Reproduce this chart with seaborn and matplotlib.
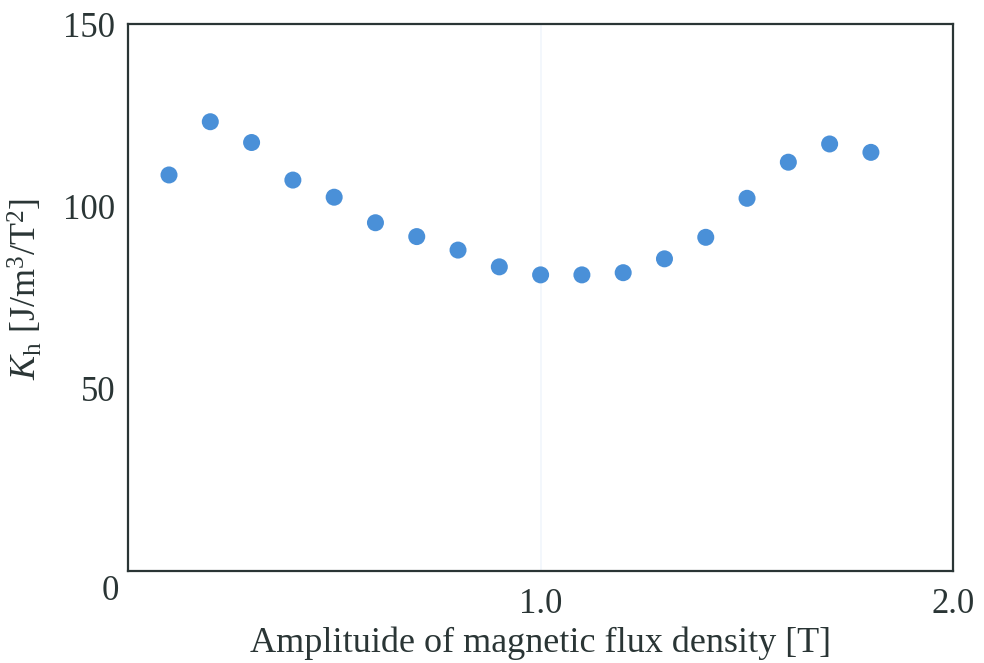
import matplotlib
matplotlib.use("Agg")
import matplotlib.pyplot as plt
import seaborn as sns
import pandas as pd

# Hysteresis loss coefficient vs. flux density amplitude
flux_density = [0.1, 0.2, 0.3, 0.4, 0.5, 0.6, 0.7, 0.8, 0.9,
                1.0, 1.1, 1.2, 1.3, 1.4, 1.5, 1.6, 1.7, 1.8]
kh_values = [108.6, 123.2, 117.5, 107.2, 102.5, 95.5, 91.7, 88.0, 83.4,
             81.2, 81.2, 81.8, 85.6, 91.5, 102.2, 112.1, 117.1, 114.8]

x_ticks = [1.0, 2.0]
x_tick_labels = ["1.0", "2.0"]
y_ticks = [50, 100, 150]
y_tick_labels = ["50", "100", "150"]

df = pd.DataFrame({"B": flux_density, "Kh": kh_values})

sns.set_theme(style="white")
plt.rcParams["font.family"] = ["Liberation Serif", "DejaVu Serif"]
plt.rcParams["mathtext.fontset"] = "custom"
plt.rcParams["mathtext.rm"] = "Liberation Serif"
plt.rcParams["mathtext.it"] = "Liberation Serif:italic"

ink = "#2a3535"

fig = plt.figure(figsize=(9.84, 6.63), dpi=100)
ax = fig.add_axes([0.1298, 0.1388, 0.969 - 0.1298, 0.9638 - 0.1388])

ax.axvline(1.0, color="#f1f6fc", lw=1.2, zorder=0)

sns.scatterplot(data=df, x="B", y="Kh", ax=ax, color="#4a90d8",
                s=150, edgecolor="none", zorder=3)

ax.set_xlim(0, 2.0)
ax.set_ylim(0, 150)
ax.set_xticks(x_ticks)
ax.set_xticklabels(x_tick_labels)
ax.set_yticks(y_ticks)
ax.set_yticklabels(y_tick_labels)
ax.tick_params(axis="both", length=0, labelsize=25, colors=ink)
ax.tick_params(axis="x", pad=12)
ax.tick_params(axis="y", pad=9)

# shared origin label at the lower-left corner
ax.text(-0.01, -0.037, "0", transform=ax.transAxes, ha="right", va="center",
        fontsize=25, color=ink)

for side in ["left", "right", "top", "bottom"]:
    ax.spines[side].set_visible(True)
    ax.spines[side].set_color(ink)
    ax.spines[side].set_linewidth(1.6)

ax.set_xlabel("Amplituide of magnetic flux density [T]", fontsize=26,
              color=ink, labelpad=4)
ax.set_ylabel(r"$K_{\mathrm{h}}$ [J/m$^3$/T$^2$]", fontsize=26, color=ink)
ax.yaxis.set_label_coords(-0.10, 0.515)

fig.savefig("out.png", dpi=100, facecolor="white")
